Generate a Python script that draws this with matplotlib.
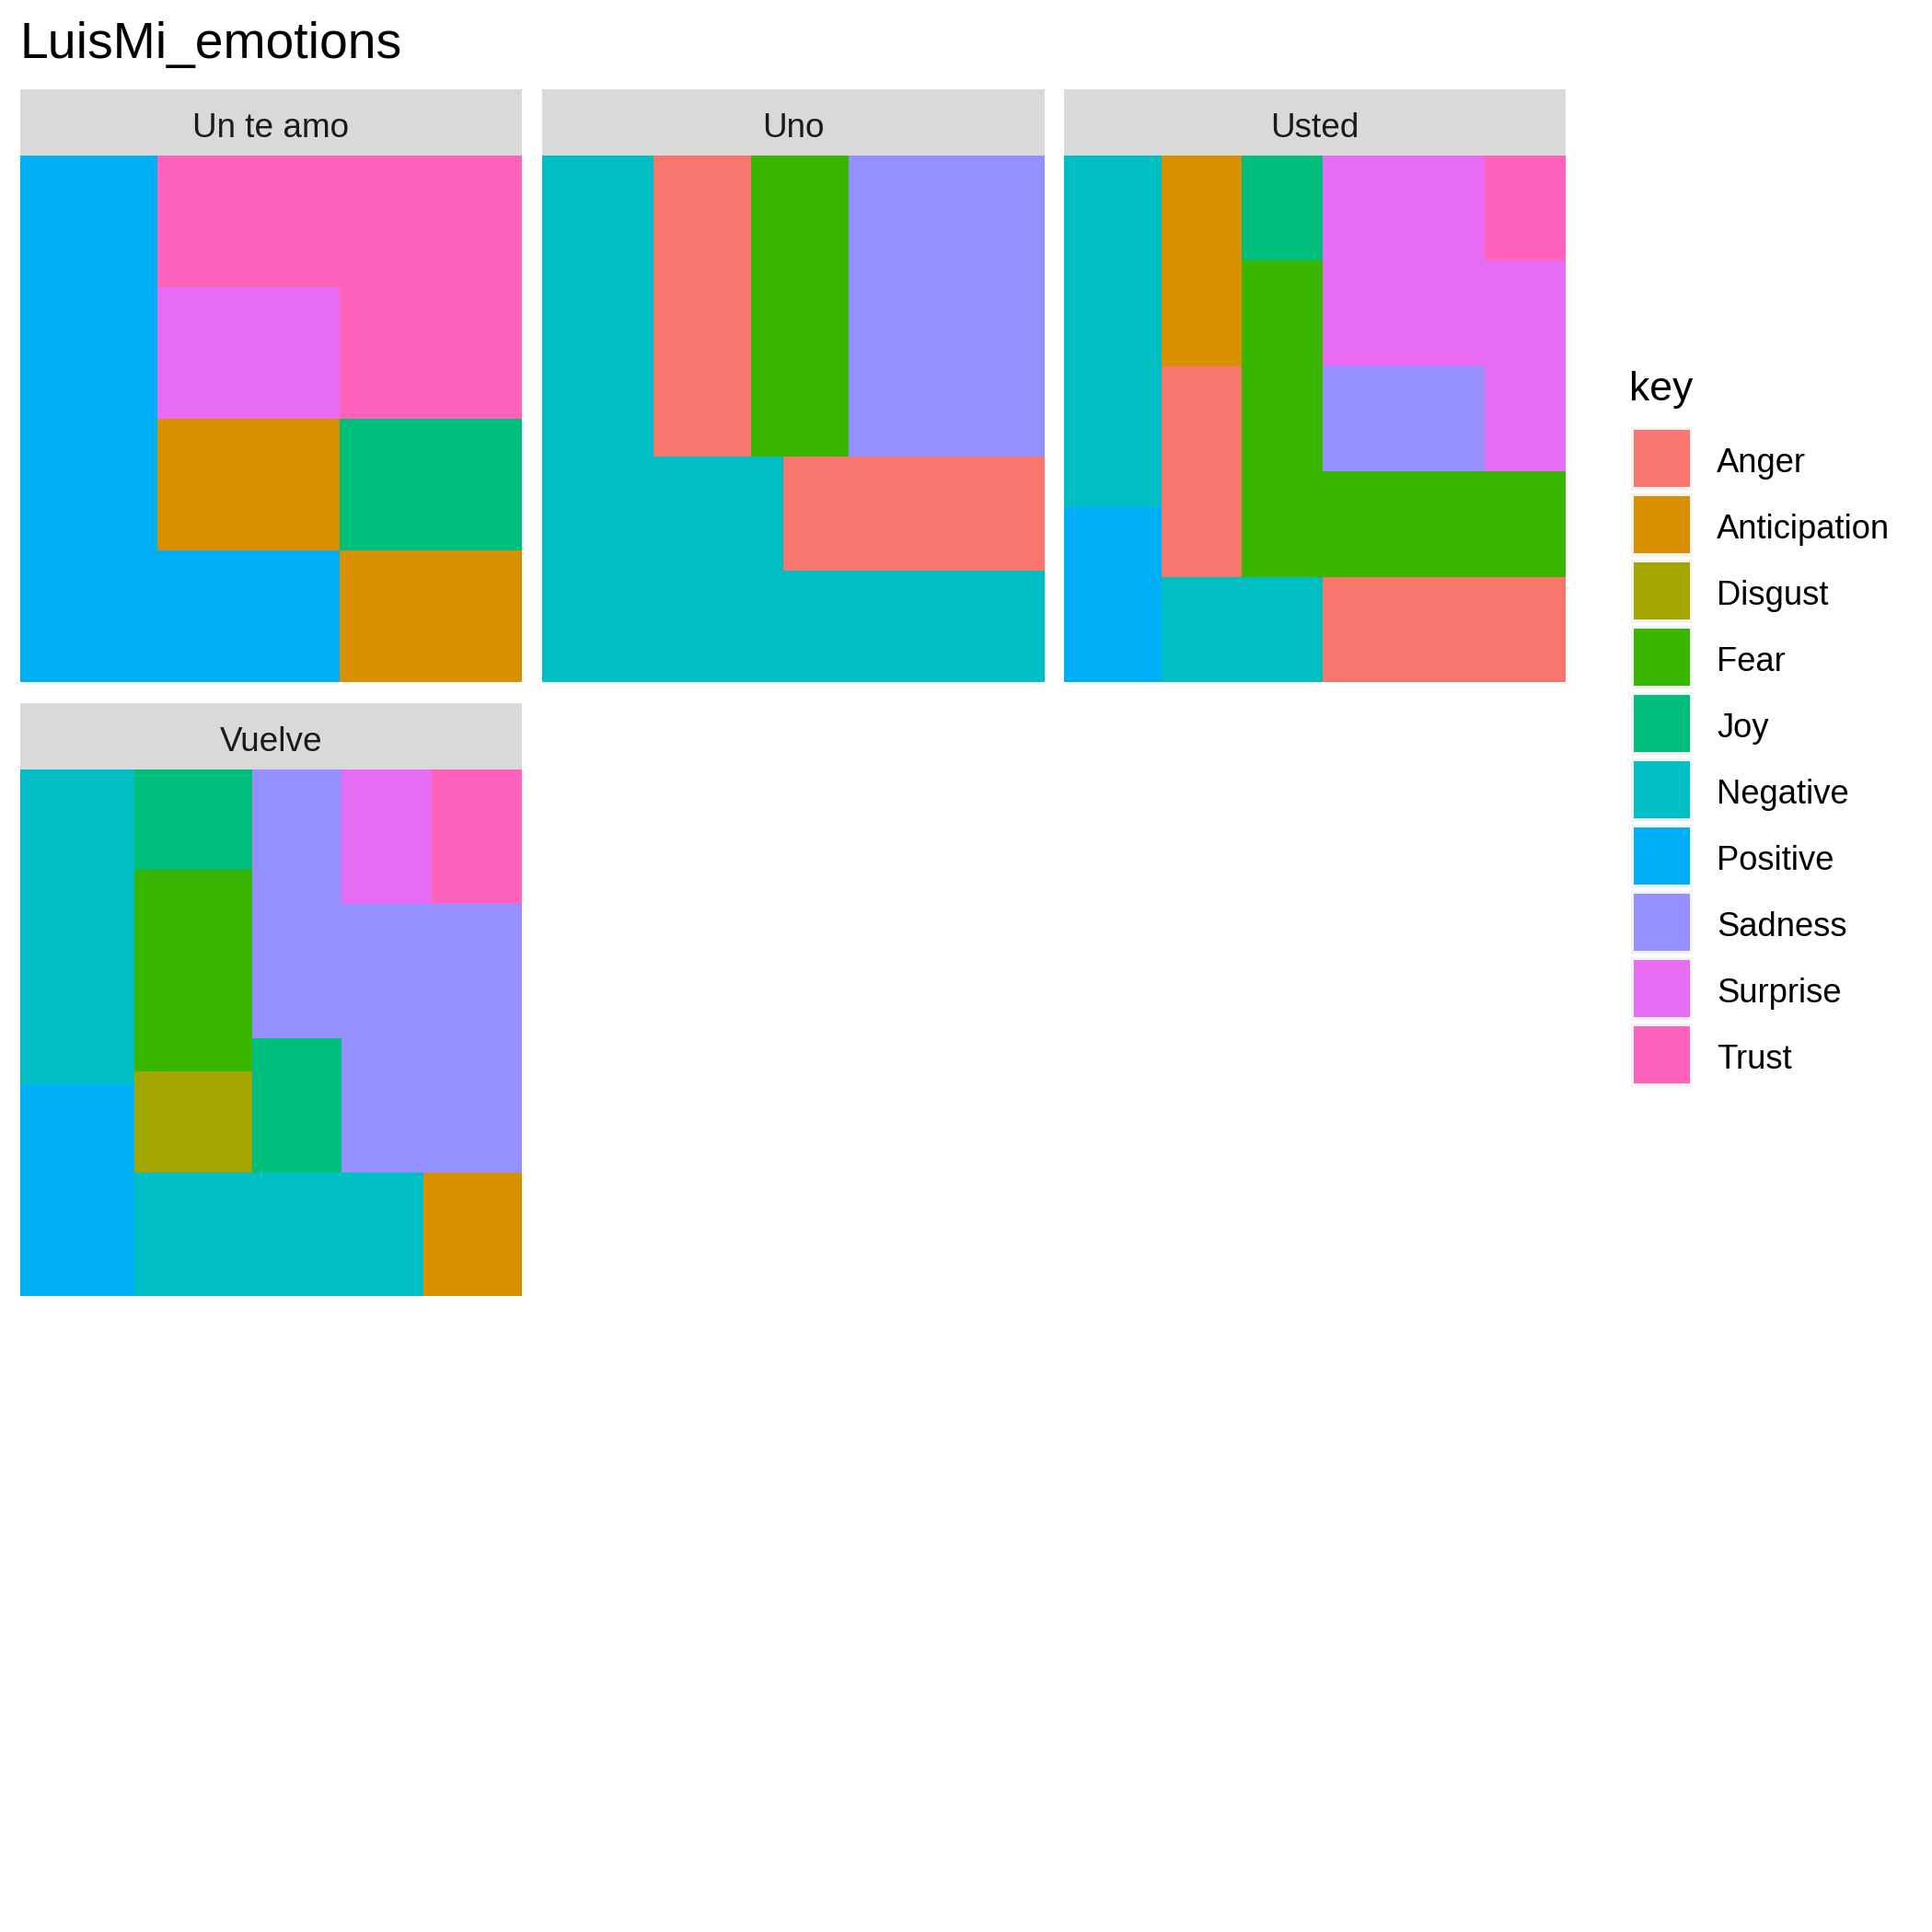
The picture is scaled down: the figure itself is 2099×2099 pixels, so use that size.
import matplotlib
matplotlib.use("Agg")
import matplotlib.pyplot as plt
from matplotlib.colors import ListedColormap
from matplotlib.patches import Rectangle

plt.rcParams['font.family'] = ['Liberation Sans', 'DejaVu Sans']

# ---------------- data ----------------
emotions = ["Anger", "Anticipation", "Disgust", "Fear", "Joy",
            "Negative", "Positive", "Sadness", "Surprise", "Trust"]
emotion_colors = ["#F8766D", "#D89000", "#A3A500", "#39B600", "#00BF7D",
                  "#00BFC4", "#00B0F6", "#9590FF", "#E76BF3", "#FF62BC"]
songs = ["Un te amo", "Uno", "Usted", "Vuelve"]

un_te_amo_x = [0, 0.2727, 0.6364, 1]
un_te_amo_y = [0, 0.25, 0.5, 0.75, 1]
un_te_amo_cells = [
    ["Positive", "Trust", "Trust"],
    ["Positive", "Surprise", "Trust"],
    ["Positive", "Anticipation", "Joy"],
    ["Positive", "Positive", "Anticipation"],
]

uno_x = [0, 0.2215, 0.416, 0.4804, 0.6098, 1]
uno_y = [0, 0.5727, 0.7879, 1]
uno_cells = [
    ["Negative", "Anger", "Fear", "Fear", "Sadness"],
    ["Negative", "Negative", "Negative", "Anger", "Anger"],
    ["Negative", "Negative", "Negative", "Negative", "Negative"],
]

usted_x = [0, 0.1946, 0.3539, 0.5153, 0.8386, 1]
usted_y = [0, 0.2, 0.4015, 0.6, 0.668, 0.8015, 1]
usted_cells = [
    ["Negative", "Anticipation", "Joy", "Surprise", "Trust"],
    ["Negative", "Anticipation", "Fear", "Surprise", "Surprise"],
    ["Negative", "Anger", "Fear", "Sadness", "Surprise"],
    ["Negative", "Anger", "Fear", "Fear", "Fear"],
    ["Positive", "Anger", "Fear", "Fear", "Fear"],
    ["Positive", "Negative", "Negative", "Anger", "Anger"],
]

vuelve_x = [0, 0.2283, 0.4627, 0.6409, 0.8035, 0.8191, 1]
vuelve_y = [0, 0.1912, 0.2562, 0.5102, 0.5737, 0.5986, 0.7649, 1]
vuelve_cells = [
    ["Negative", "Joy", "Sadness", "Surprise", "Surprise", "Trust"],
    ["Negative", "Fear", "Sadness", "Surprise", "Surprise", "Trust"],
    ["Negative", "Fear", "Sadness", "Sadness", "Sadness", "Sadness"],
    ["Negative", "Fear", "Joy", "Sadness", "Sadness", "Sadness"],
    ["Negative", "Disgust", "Joy", "Sadness", "Sadness", "Sadness"],
    ["Positive", "Disgust", "Joy", "Sadness", "Sadness", "Sadness"],
    ["Positive", "Negative", "Negative", "Negative", "Anticipation", "Anticipation"],
]

panels = [
    (un_te_amo_x, un_te_amo_y, un_te_amo_cells),
    (uno_x, uno_y, uno_cells),
    (usted_x, usted_y, usted_cells),
    (vuelve_x, vuelve_y, vuelve_cells),
]

# ---------------- layout (pixels) ----------------
W = H = 2099
DPI = 200
fig = plt.figure(figsize=(W / DPI, H / DPI), dpi=DPI, facecolor="white")

col_left = [21.8, 589.0, 1156.0]
panel_w = 545.5
row_strip_top = [96.8, 763.9]
strip_h = 71.8
panel_h = 572.4

cmap = ListedColormap(emotion_colors)

def add_px_axes(x0, y0, w, h):
    return fig.add_axes([x0 / W, 1 - (y0 + h) / H, w / W, h / H])

strip_labels = []
for i, (song, (xe, ye, cells)) in enumerate(zip(songs, panels)):
    r, c = divmod(i, 3)
    x0 = col_left[c]
    st = row_strip_top[r]
    # strip
    sax = add_px_axes(x0, st, panel_w, strip_h)
    sax.set_facecolor("#D9D9D9")
    sax.set_xticks([]); sax.set_yticks([])
    for s in sax.spines.values():
        s.set_visible(False)
    strip_labels.append((x0 + panel_w / 2, st + 51.8, song))
    # panel
    ax = add_px_axes(x0, st + strip_h, panel_w, panel_h)
    C = [[emotions.index(v) for v in row] for row in cells]
    ax.pcolormesh(xe, ye, C, cmap=cmap, vmin=-0.5, vmax=len(emotions) - 0.5,
                  shading="flat", edgecolors="face", linewidth=0.0,
                  antialiased=False)
    ax.set_xlim(0, 1)
    ax.set_ylim(1, 0)
    ax.axis("off")

# overlay for title, strip labels and legend
ov = fig.add_axes([0, 0, 1, 1])
ov.set_xlim(0, W)
ov.set_ylim(H, 0)
ov.axis("off")
ov.patch.set_visible(False)

for (lx, ly, song) in strip_labels:
    ov.text(lx, ly, song, fontsize=13.3, color="#1A1A1A",
            ha="center", va="baseline")

ov.text(21.8, 63.3, "LuisMi_emotions", fontsize=19.9, color="black",
        ha="left", va="baseline")

ov.text(1770, 435, "key", fontsize=16, color="black", ha="left", va="baseline")
key_c0 = 498.0
key_step = 72.0
for k, (name, col) in enumerate(zip(emotions, emotion_colors)):
    cy = key_c0 + k * key_step
    ov.add_patch(Rectangle((1770, cy - 36), 70, 72, facecolor="#F2F2F2",
                           edgecolor="white", linewidth=1.2))
    ov.add_patch(Rectangle((1775, cy - 30.7), 61, 61.4, facecolor=col,
                           edgecolor="none"))
    ov.text(1865, cy + 14.7, name, fontsize=13.1, color="black",
            ha="left", va="baseline")

fig.savefig("out.png", dpi=DPI, facecolor="white")
